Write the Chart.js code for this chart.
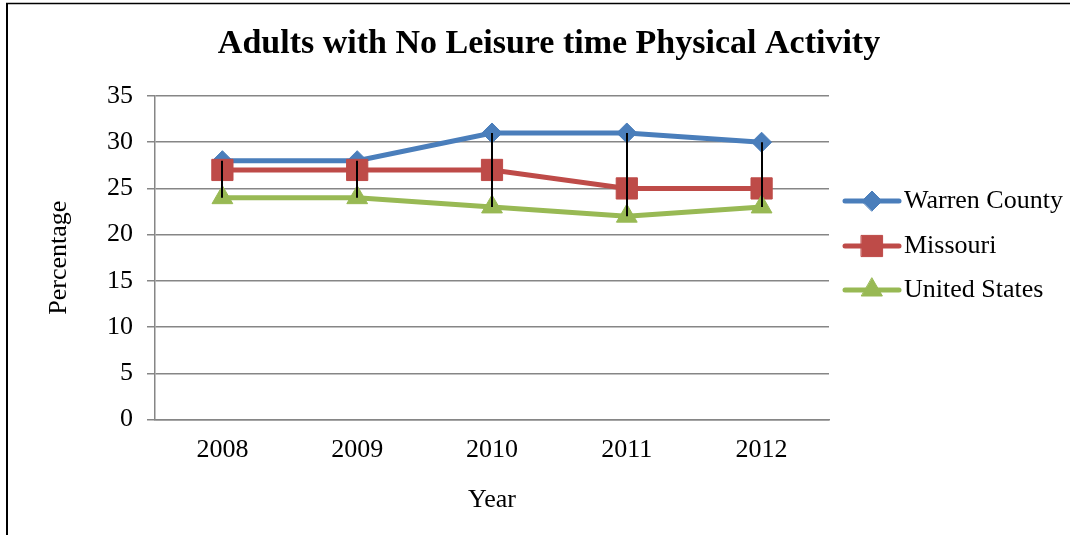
<!DOCTYPE html>
<html>
<head>
<meta charset="utf-8">
<script src="https://cdn.jsdelivr.net/npm/chart.js@4.4.1/dist/chart.umd.min.js"></script>
<style>
  html, body { margin: 0; padding: 0; background: #ffffff; overflow: hidden; }
  #wrap { position: relative; width: 1080px; height: 535px; }
</style>
</head>
<body>
<div id="wrap"><canvas id="c"></canvas></div>
<script>
// ---- data ----
const years = ['2008', '2009', '2010', '2011', '2012'];
const warrenCounty = [28, 28, 31, 31, 30];
const missouri = [27, 27, 27, 25, 25];
const unitedStates = [24, 24, 23, 22, 23];
const seriesNames = ['Warren County', 'Missouri', 'United States'];
const yTicks = [0, 5, 10, 15, 20, 25, 30, 35];

const FONT = '"Liberation Serif", "Times New Roman", serif';
const GRID = '#868686';

// frame (left + top edge of the Excel chart box)
const framePlugin = {
  id: 'frame',
  beforeDraw(chart) {
    const ctx = chart.ctx;
    ctx.save();
    ctx.fillStyle = '#ffffff';
    ctx.fillRect(0, 0, chart.width, chart.height);
    ctx.strokeStyle = '#000000';
    ctx.lineWidth = 2;
    ctx.beginPath();
    ctx.moveTo(7, 3);
    ctx.lineTo(7, chart.height);
    ctx.stroke();
    ctx.lineWidth = 1.5;
    ctx.beginPath();
    ctx.moveTo(6, 3.5);
    ctx.lineTo(1070, 3.5);
    ctx.stroke();
    ctx.restore();
  }
};

// high-low lines
const hiLoPlugin = {
  id: 'hiLo',
  afterDatasetsDraw(chart) {
    const ctx = chart.ctx;
    const xs = chart.scales.x, ys = chart.scales.y;
    ctx.save();
    ctx.strokeStyle = '#000000';
    ctx.lineWidth = 2;
    years.forEach((_, i) => {
      const vals = chart.data.datasets.map(d => d.data[i]);
      const hi = Math.max(...vals), lo = Math.min(...vals);
      const x = Math.round(xs.getPixelForValue(i));
      ctx.beginPath();
      ctx.moveTo(x, ys.getPixelForValue(hi));
      ctx.lineTo(x, ys.getPixelForValue(lo));
      ctx.stroke();
    });
    ctx.restore();
  }
};

// legend drawn like Excel (line with marker)
const legendPlugin = {
  id: 'xlLegend',
  afterDraw(chart) {
    const ctx = chart.ctx;
    const area = chart.chartArea;
    const x0 = area.right + 16, x1 = area.right + 70, tx = area.right + 75;
    const rowY = [201, 246, 290];
    ctx.save();
    chart.data.datasets.forEach((ds, i) => {
      const y = rowY[i];
      ctx.strokeStyle = ds.borderColor;
      ctx.lineWidth = 5;
      ctx.lineCap = 'round';
      ctx.beginPath();
      ctx.moveTo(x0, y);
      ctx.lineTo(x1, y);
      ctx.stroke();
      ctx.fillStyle = ds.pointBackgroundColor;
      ctx.strokeStyle = ds.pointBorderColor;
      ctx.lineWidth = 1;
      Chart.helpers.drawPoint(ctx, { pointStyle: ds.pointStyle, radius: ds.pointRadius, rotation: 0, borderWidth: 1 }, (x0 + x1) / 2, y);
      ctx.fillStyle = '#000000';
      ctx.font = '26px ' + FONT;
      ctx.textBaseline = 'middle';
      ctx.textAlign = 'left';
      ctx.fillText(ds.label, tx, y);
    });
    ctx.restore();
  }
};

function series(label, data, color, style, radius, order) {
  return {
    label, data, order,
    borderColor: color,
    backgroundColor: color,
    borderWidth: 5,
    tension: 0,
    pointStyle: style,
    pointRadius: radius,
    pointHoverRadius: radius,
    pointBackgroundColor: color,
    pointBorderColor: color,
    pointBorderWidth: 1,
    fill: false
  };
}

new Chart(document.getElementById('c'), {
  type: 'line',
  data: {
    labels: years,
    datasets: [
      series(seriesNames[0], warrenCounty, '#4A7EBB', 'rectRot', 10, 3),
      series(seriesNames[1], missouri, '#BE4B48', 'rect', 15, 2),
      series(seriesNames[2], unitedStates, '#98B954', 'triangle', 12, 1)
    ]
  },
  options: {
    responsive: true,
    maintainAspectRatio: false,
    animation: false,
    events: [],
    layout: { padding: { left: 18, right: 0, top: 0, bottom: 0 } },
    plugins: {
      legend: { display: false },
      tooltip: { enabled: false },
      title: {
        display: true,
        text: 'Adults with No Leisure time Physical Activity',
        color: '#000000',
        font: { family: FONT, size: 34, weight: 'bold' },
        padding: { top: 23.6, bottom: 31.6 }
      }
    },
    scales: {
      x: {
        type: 'category',
        offset: true,
        grid: { display: false, drawTicks: false },
        border: { display: true, color: GRID, width: 1.5 },
        ticks: { color: '#000000', font: { family: FONT, size: 26 }, padding: 15, maxRotation: 0 },
        title: { display: true, text: 'Year', color: '#000000', font: { family: FONT, size: 26 }, padding: { top: 0, bottom: 19 } },
        afterFit(s) { s.height = 115.5; }
      },
      y: {
        type: 'linear',
        position: 'left',
        min: 0,
        max: 35,
        afterBuildTicks(s) { s.ticks = yTicks.map(v => ({ value: v })); },
        grid: { color: GRID, lineWidth: 1.5, drawTicks: true, tickLength: 8, tickColor: GRID },
        border: { display: true, color: GRID, width: 1.5 },
        ticks: { color: '#000000', font: { family: FONT, size: 26 }, padding: 14 },
        title: { display: true, text: 'Percentage', color: '#000000', font: { family: FONT, size: 26 }, padding: { top: 26, bottom: 0 } },
        afterFit(s) { s.width = 137; }
      },
      yLegendSpace: {
        type: 'linear',
        position: 'right',
        display: true,
        grid: { display: false, drawTicks: false },
        border: { display: false },
        ticks: { display: false },
        afterFit(s) { s.width = 251; }
      }
    }
  },
  plugins: [framePlugin, hiLoPlugin, legendPlugin]
});
</script>
</body>
</html>
